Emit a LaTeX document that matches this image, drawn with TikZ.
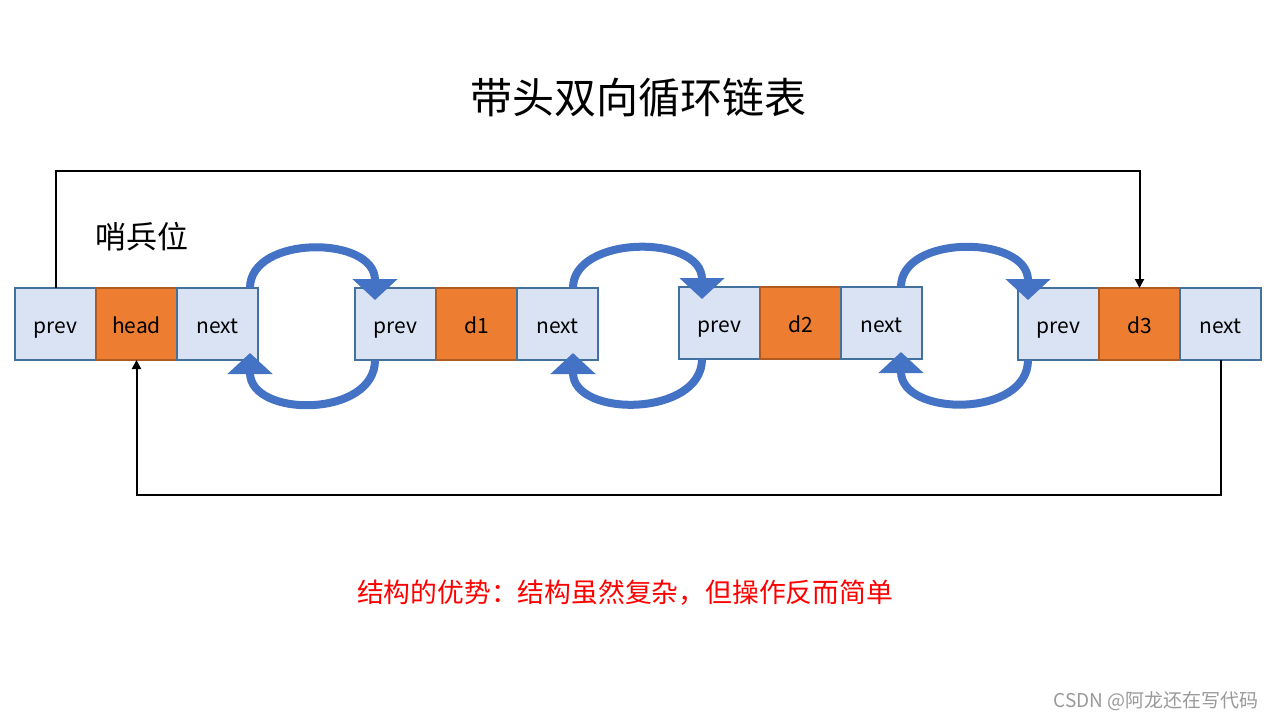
\documentclass[tikz,border=0pt]{standalone}
\usepackage{fontspec}
\setmainfont{Noto Sans CJK SC}
\usetikzlibrary{arrows.meta, positioning, calc}

\definecolor{cellblue}{HTML}{DAE3F3}
\definecolor{cellline}{HTML}{41719C}
\definecolor{dataorange}{HTML}{ED7D31}
\definecolor{dataline}{HTML}{AE5A21}
\definecolor{linkblue}{HTML}{4472C4}

\tikzset{
  cell/.style={draw=cellline, fill=cellblue, line width=0.6pt, minimum width=40.5pt,
    minimum height=36pt, inner sep=0pt, outer sep=0pt, text height=1.95ex, text depth=0.2ex,
    font=\fontsize{10.5}{12}\selectfont},
  datacell/.style={cell, draw=dataline, fill=dataorange},
  link/.style={linkblue, line width=4pt, -{Triangle[width=22pt, length=10.5pt]}},
  wrap/.style={black, line width=1pt, -{Triangle[width=4.5pt, length=4.5pt]}}
}

\begin{document}
\begin{tikzpicture}[x=0.5pt, y=-0.5pt]
  \useasboundingbox (0,0) rectangle (1280,720);

  % Title
  \node (title) at (638,98) {\fontsize{21}{24}\selectfont 带头双向循环链表};
  \node (sentinel) at (142,237) {\fontsize{15.5}{18}\selectfont 哨兵位};

  % Nodes: prev | data | next
  \foreach \i/\x/\y/\lab in {0/15/288/head, 1/355/288/d1, 2/679/287/d2, 3/1018/288/d3} {
    \node[cell, anchor=north west] (p\i) at (\x,\y) {prev};
    \node[datacell, right=0pt of p\i] (d\i) {\lab};
    \node[cell, right=0pt of d\i] (n\i) {next};
  }

  % Links between neighbours
  \foreach \i/\j/\a/\b in {0/1/8/20, 1/2/25/23, 2/3/21/10} {
    \draw[link] ($(n\i.north east)+(-\a,0)$) .. controls +(0,-53) and +(0,-65) .. ($(p\j.north west)+(\b,12)$);
    \draw[link] ($(p\j.south west)+(\b,0)$) .. controls +(0,58) and +(0,65) .. ($(n\i.south east)+(-\a,-7)$);
  }

  % Circular links
  \draw[wrap] (p0.north) -- ++(0,-117) -| (d3.north);
  \draw[wrap] (n3.south) -- ++(0,135) -| (d0.south);

  % Notes
  \node[red] (note) at (625,593) {\fontsize{13.4}{16}\selectfont 结构的优势：结构虽然复杂，但操作反而简单};
  \node[gray!80, anchor=east] (mark) at (1266,701) {\fontsize{9.5}{11}\selectfont CSDN @阿龙还在写代码};
\end{tikzpicture}
\end{document}
